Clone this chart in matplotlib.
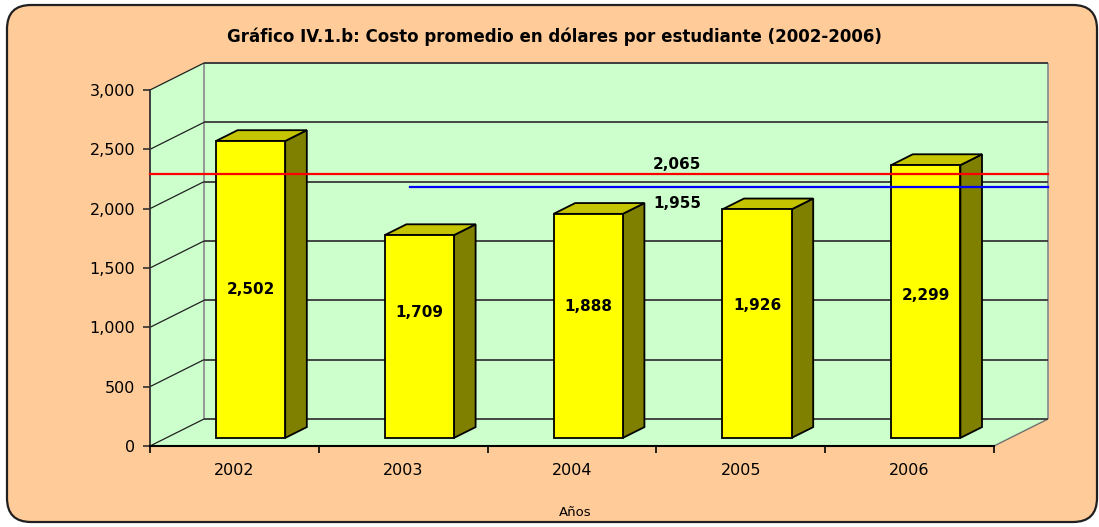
import matplotlib
matplotlib.use("Agg")
import matplotlib.pyplot as plt
from matplotlib.patches import Polygon, FancyBboxPatch
from matplotlib.ticker import FuncFormatter, FixedLocator

# ---- data ----
years = ["2002", "2003", "2004", "2005", "2006"]
costs = [2502, 1709, 1888, 1926, 2299]
ref_red = 2065
ref_blue = 1955
yticks = [0, 500, 1000, 1500, 2000, 2500, 3000]
title = "Gráfico IV.1.b: Costo promedio en dólares por estudiante (2002-2006)"
xlabel = "Años"

# ---- style ----
ORANGE = "#FFCC99"
GREEN = "#CCFFCC"
YEL = "#FFFF00"
TOP = "#C4C400"
SIDE = "#808000"

W, H = 1099, 527
fig = plt.figure(figsize=(W / 100, H / 100), dpi=100, facecolor="white")

frame = FancyBboxPatch((0.07, 0.05), 10.90, 5.17,
                       boxstyle="round,pad=0,rounding_size=0.24",
                       transform=fig.dpi_scale_trans, facecolor=ORANGE,
                       edgecolor="#202020", linewidth=1.6, zorder=-10)
fig.patches.append(frame)

ax = fig.add_axes([150 / W, 81 / H, 844 / W, 356 / H])
ax.set_zorder(5)
ax.set_xlim(-0.5, len(years) - 0.5)
ax.set_ylim(0, 3000)
ax.patch.set_visible(False)

# depth offsets in data units (full depth)
DX = 54 / (844 / len(years))
DY = 27 / (356 / 3000)
x0, x1 = -0.5, len(years) - 0.5
ymax = yticks[-1]

def P(x, y, z):
    return (x + DX * z, y + DY * z)

def poly(pts, fc, ec="none", lw=0.0, z=1):
    ax.add_patch(Polygon(pts, closed=True, facecolor=fc, edgecolor=ec,
                         linewidth=lw, zorder=z, clip_on=False))

# walls
poly([P(x0, 0, 1), P(x1, 0, 1), P(x1, ymax, 1), P(x0, ymax, 1)], GREEN, z=1)
poly([P(x0, 0, 0), P(x0, ymax, 0), P(x0, ymax, 1), P(x0, 0, 1)], GREEN, z=1)
poly([P(x0, 0, 0), P(x1, 0, 0), P(x1, 0, 1), P(x0, 0, 1)], GREEN, z=1)

def line(a, b, color, lw, z=2):
    ax.plot([a[0], b[0]], [a[1], b[1]], color=color, lw=lw, zorder=z,
            clip_on=False, solid_capstyle="butt")

# back wall border
line(P(x0, 0, 1), P(x0, ymax, 1), "#909090", 1.3)
line(P(x0, ymax, 1), P(x1, ymax, 1), "#909090", 1.3)
line(P(x1, ymax, 1), P(x1, 0, 1), "#909090", 1.3)
line(P(x1, 0, 0), P(x1, 0, 1), "#707070", 1.0)
# gridlines
for v in yticks:
    line(P(x0, v, 1), P(x1, v, 1), "#383838", 1.3)
    line(P(x0, v, 0), P(x0, v, 1), "#202020", 0.9)

# bars
bw = 0.41
z0, z1 = 0.3, 0.7
for i, v in enumerate(costs):
    xl, xr = i - bw / 2, i + bw / 2
    front = [P(xl, 0, z0), P(xr, 0, z0), P(xr, v, z0), P(xl, v, z0)]
    top = [P(xl, v, z0), P(xr, v, z0), P(xr, v, z1), P(xl, v, z1)]
    side = [P(xr, 0, z0), P(xr, 0, z1), P(xr, v, z1), P(xr, v, z0)]
    poly(side, SIDE, "black", 1.3, z=3)
    poly(top, TOP, "black", 1.3, z=3)
    poly(front, YEL, "black", 1.3, z=3)
    lx, ly = P(i, 0.24 * v + 650, z0)
    ax.text(lx, ly, f"{v:,}", ha="center", va="center", fontsize=11,
            fontweight="bold", color="black", zorder=6)

# reference lines
ry = ref_red + DY
by = ref_blue + DY
ax.plot([x0, x1 + DX], [ry, ry], color="#FF0000", lw=1.6, zorder=5, clip_on=False)
ax.plot([1.04, x1 + DX], [by, by], color="#0000FF", lw=1.6, zorder=5, clip_on=False)
ax.annotate(f"{ref_red:,}", (2.48, ry), xytext=(0, 1.5), textcoords="offset points",
            ha="left", va="bottom", fontsize=11, fontweight="bold", zorder=6)
ax.annotate(f"{ref_blue:,}", (2.48, by), xytext=(0, -6.5), textcoords="offset points",
            ha="left", va="top", fontsize=11, fontweight="bold", zorder=6)

# axes
for s in ["top", "right"]:
    ax.spines[s].set_visible(False)
ax.spines["left"].set_color("#303030")
ax.spines["left"].set_linewidth(1.3)
ax.spines["bottom"].set_color("black")
ax.spines["bottom"].set_linewidth(1.5)
ax.set_yticks(yticks)
ax.yaxis.set_major_formatter(FuncFormatter(lambda v, p: f"{int(v):,}"))
ax.tick_params(axis="y", direction="out", length=5, width=1.2, pad=5.5,
               labelsize=11.5, colors="#303030", labelcolor="black")
ax.set_xticks(range(len(years)))
ax.set_xticklabels(years)
ax.xaxis.set_minor_locator(FixedLocator([k - 0.5 for k in range(len(years) + 1)]))
ax.tick_params(axis="x", which="major", length=0, pad=12, labelsize=11.5)
ax.tick_params(axis="x", which="minor", direction="out", length=5, width=1.2)

fig.text(554 / W, 1 - 37 / H, title, ha="center", va="center",
         fontsize=12, fontweight="bold")
fig.text(575 / W, 1 - 513 / H, xlabel, ha="center", va="center", fontsize=9.5)

fig.savefig("out.png", dpi=100, facecolor="white")
